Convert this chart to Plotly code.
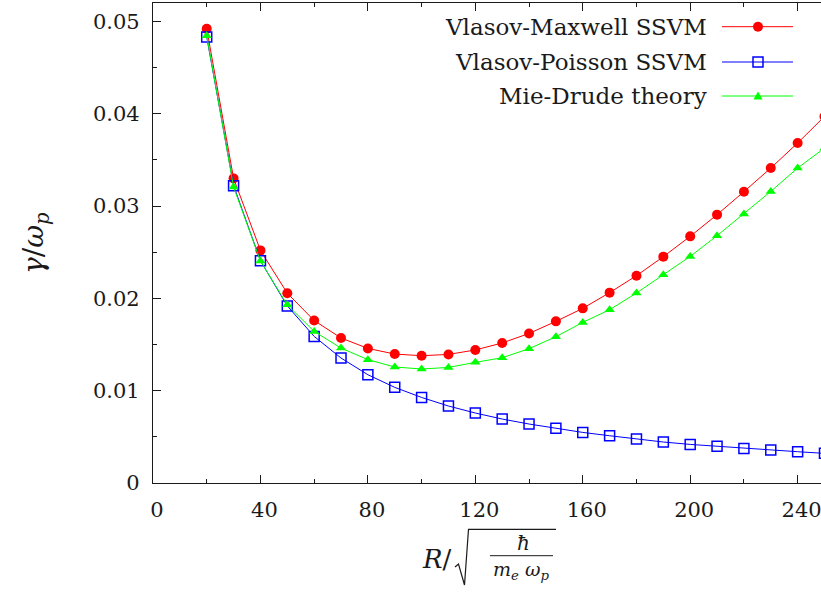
import plotly.graph_objects as go

# Cluster radius (in units of sqrt(hbar / (m_e * omega_p)))
radius = [20, 30, 40, 50, 60, 70, 80, 90, 100, 110, 120, 130, 140, 150,
          160, 170, 180, 190, 200, 210, 220, 230, 240, 250]

# Damping rate gamma / omega_p
vlasov_maxwell = [0.0492, 0.0330, 0.0252, 0.02056, 0.01760, 0.01571, 0.01458,
                  0.01397, 0.01379, 0.01393, 0.01441, 0.01517, 0.01620,
                  0.01751, 0.01892, 0.02062, 0.02246, 0.02452, 0.02672,
                  0.02907, 0.03156, 0.03412, 0.03683, 0.03971]
vlasov_poisson = [0.04832, 0.03221, 0.02408, 0.01918, 0.01588, 0.01354,
                  0.01173, 0.01036, 0.00927, 0.00834, 0.00758, 0.00693,
                  0.00639, 0.00592, 0.00548, 0.00512, 0.00477, 0.00444,
                  0.00418, 0.00397, 0.00375, 0.00357, 0.00339, 0.00321]
mie_drude = [0.04846, 0.03207, 0.02405, 0.01930, 0.01642, 0.01462, 0.01336,
             0.01257, 0.01235, 0.01252, 0.01307, 0.01357, 0.01455, 0.01585,
             0.01740, 0.01877, 0.02058, 0.02256, 0.02455, 0.02679, 0.02914,
             0.03159, 0.03412, 0.03629]

series_names = ["Vlasov-Maxwell SSVM", "Vlasov-Poisson SSVM", "Mie-Drude theory"]
series_colors = ["#ff0000", "#0000ff", "#00ff00"]

W, H = 821, 592
ML, MR, MT, MB = 153, 0, 3, 109
PW, PH = W - ML - MR, H - MT - MB
SERIF = "DejaVu Serif"
INK = "#1a1a1a"


def px(x):
    return (x - ML) / PW


def py(y):
    return (H - MB - y) / PH


fig = go.Figure()

fig.add_trace(go.Scatter(
    x=radius, y=vlasov_maxwell, mode="lines+markers", name=series_names[0],
    line=dict(color=series_colors[0], width=1),
    marker=dict(symbol="circle", size=10, color=series_colors[0])))
fig.add_trace(go.Scatter(
    x=radius, y=vlasov_poisson, mode="lines+markers", name=series_names[1],
    line=dict(color=series_colors[1], width=1),
    marker=dict(symbol="square-open", size=10, color=series_colors[1],
                line=dict(width=1.5, color=series_colors[1]))))
fig.add_trace(go.Scatter(
    x=radius, y=mie_drude, mode="lines+markers", name=series_names[2],
    line=dict(color=series_colors[2], width=1),
    marker=dict(symbol="triangle-up", size=9, color=series_colors[2])))

axis_common = dict(
    showgrid=False, zeroline=False, showline=True, linecolor=INK, linewidth=1.2,
    ticks="inside", ticklen=8, tickwidth=1.2, tickcolor=INK,
    tickfont=dict(family=SERIF, size=21, color=INK),
    ticklabeloverflow="allow",
)

fig.update_xaxes(
    range=[0, 248.7], dtick=40, tick0=0, mirror="ticks",
    minor=dict(dtick=20, ticks="inside", ticklen=4, tickwidth=1.2, tickcolor=INK),
    ticklabelshift=4, ticklabelstandoff=8,
    **axis_common)
fig.update_yaxes(
    range=[0, 0.052], dtick=0.01, tick0=0, mirror=False,
    minor=dict(dtick=0.005, ticks="inside", ticklen=4, tickwidth=1.2, tickcolor=INK),
    ticklabelstandoff=8,
    **axis_common)

annotations = []
shapes = []

# Key: label on the left, line sample with marker on the right
key_rows = [26.7, 62.0, 96.0]
key_text_right, key_line_x0, key_line_x1, key_mark_x = 709, 722, 793, 758
for name, color, row, sym in zip(series_names, series_colors, key_rows,
                                 ["circle", "square", "triangle"]):
    annotations.append(dict(
        x=px(key_text_right), y=py(row), xref="paper", yref="paper",
        xanchor="right", yanchor="middle", showarrow=False, text=name,
        font=dict(family=SERIF, size=23, color=INK)))
    shapes.append(dict(type="line", xref="paper", yref="paper",
                       x0=px(key_line_x0), x1=px(key_line_x1),
                       y0=py(row), y1=py(row), line=dict(color=color, width=1)))
    r = 5
    if sym == "circle":
        shapes.append(dict(type="circle", xref="paper", yref="paper",
                           x0=px(key_mark_x - r), x1=px(key_mark_x + r),
                           y0=py(row + r), y1=py(row - r),
                           fillcolor=color, line=dict(color=color, width=0)))
    elif sym == "square":
        shapes.append(dict(type="rect", xref="paper", yref="paper",
                           x0=px(key_mark_x - r), x1=px(key_mark_x + r),
                           y0=py(row + r), y1=py(row - r),
                           fillcolor="rgba(0,0,0,0)", line=dict(color=color, width=1.5)))
    else:
        path = "M {:.5f},{:.5f} L {:.5f},{:.5f} L {:.5f},{:.5f} Z".format(
            px(key_mark_x - 4.5), py(row + 3.5), px(key_mark_x + 4.5), py(row + 3.5),
            px(key_mark_x), py(row - 4.5))
        shapes.append(dict(type="path", xref="paper", yref="paper", path=path,
                           fillcolor=color, line=dict(color=color, width=0)))

# y-axis title: gamma / omega_p
annotations.append(dict(
    x=px(35), y=py(243), xref="paper", yref="paper", textangle=-90,
    xanchor="center", yanchor="middle", showarrow=False,
    text="<i>γ</i>/<i>ω</i><sub><i>p</i></sub>",
    font=dict(family=SERIF, size=28, color=INK)))

# x-axis title: R / sqrt(hbar / (m_e omega_p))
annotations.append(dict(
    x=px(437), y=py(559), xref="paper", yref="paper",
    xanchor="center", yanchor="middle", showarrow=False,
    text="<i>R</i>/", font=dict(family=SERIF, size=26, color=INK)))
annotations.append(dict(
    x=px(523), y=py(543), xref="paper", yref="paper",
    xanchor="center", yanchor="middle", showarrow=False,
    text="<i>ħ</i>", font=dict(family=SERIF, size=20, color=INK)))
annotations.append(dict(
    x=px(521), y=py(570), xref="paper", yref="paper",
    xanchor="center", yanchor="middle", showarrow=False,
    text="<i>m</i><sub><i>e</i></sub> <i>ω</i><sub><i>p</i></sub>",
    font=dict(family=SERIF, size=19, color=INK)))
shapes.append(dict(type="line", xref="paper", yref="paper",
                   x0=px(490), x1=px(553), y0=py(555.7), y1=py(555.7),
                   line=dict(color=INK, width=1)))
radical = "M {:.5f},{:.5f} L {:.5f},{:.5f} L {:.5f},{:.5f} L {:.5f},{:.5f} L {:.5f},{:.5f}".format(
    px(455), py(567), px(458.5), py(564), px(464.5), py(585),
    px(468.5), py(529.3), px(556), py(529.3))
shapes.append(dict(type="path", xref="paper", yref="paper", path=radical,
                   line=dict(color=INK, width=1.2)))

fig.update_layout(
    width=W, height=H, margin=dict(l=ML, r=MR, t=MT, b=MB),
    paper_bgcolor="white", plot_bgcolor="white", showlegend=False,
    font=dict(family=SERIF, color=INK),
    annotations=annotations, shapes=shapes,
)

fig.write_html("out.html")
